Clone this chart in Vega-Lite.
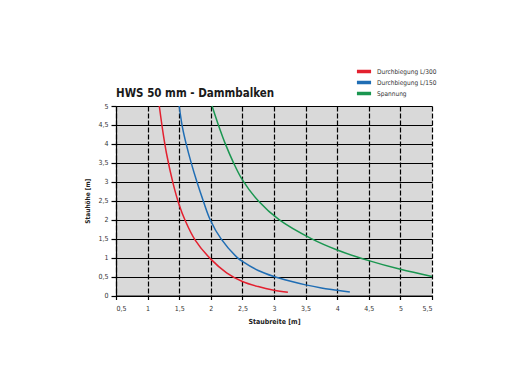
{
  "$schema": "https://vega.github.io/schema/vega-lite/v6.json",
  "width": 316,
  "height": 189.5,
  "autosize": {"type": "none"},
  "padding": {"left": 116, "top": 106, "right": 96, "bottom": 90.5},
  "background": "white",
  "config": {
    "view": {"fill": "#d9d9d9", "stroke": null},
    "font": "Liberation Sans Narrow, DejaVu Sans Condensed, sans-serif"
  },
  "title": {
    "text": "HWS 50 mm - Dammbalken",
    "anchor": "start",
    "frame": "group",
    "fontSize": 11.5,
    "fontWeight": "bold",
    "color": "#1a1a1a",
    "offset": 9,
    "dy": 41,
    "font": "Liberation Sans Narrow, DejaVu Sans Condensed, sans-serif"
  },
  "data": {
    "values": [
      {"series": "Durchbiegung L/300", "x": 1.185, "y": 5},
      {"series": "Durchbiegung L/300", "x": 1.25, "y": 4.23},
      {"series": "Durchbiegung L/300", "x": 1.3, "y": 3.74},
      {"series": "Durchbiegung L/300", "x": 1.4, "y": 2.98},
      {"series": "Durchbiegung L/300", "x": 1.5, "y": 2.39},
      {"series": "Durchbiegung L/300", "x": 1.6, "y": 1.96},
      {"series": "Durchbiegung L/300", "x": 1.75, "y": 1.47},
      {"series": "Durchbiegung L/300", "x": 2.0, "y": 0.96},
      {"series": "Durchbiegung L/300", "x": 2.25, "y": 0.6},
      {"series": "Durchbiegung L/300", "x": 2.5, "y": 0.37},
      {"series": "Durchbiegung L/300", "x": 2.75, "y": 0.235},
      {"series": "Durchbiegung L/300", "x": 3.0, "y": 0.14},
      {"series": "Durchbiegung L/300", "x": 3.22, "y": 0.085},
      {"series": "Durchbiegung L/150", "x": 1.5, "y": 5},
      {"series": "Durchbiegung L/150", "x": 1.55, "y": 4.45},
      {"series": "Durchbiegung L/150", "x": 1.61, "y": 4},
      {"series": "Durchbiegung L/150", "x": 1.69, "y": 3.5},
      {"series": "Durchbiegung L/150", "x": 1.78, "y": 3},
      {"series": "Durchbiegung L/150", "x": 1.88, "y": 2.5},
      {"series": "Durchbiegung L/150", "x": 1.99, "y": 2},
      {"series": "Durchbiegung L/150", "x": 2.16, "y": 1.5},
      {"series": "Durchbiegung L/150", "x": 2.42, "y": 1},
      {"series": "Durchbiegung L/150", "x": 2.5, "y": 0.9},
      {"series": "Durchbiegung L/150", "x": 2.75, "y": 0.66},
      {"series": "Durchbiegung L/150", "x": 3.0, "y": 0.5},
      {"series": "Durchbiegung L/150", "x": 3.25, "y": 0.38},
      {"series": "Durchbiegung L/150", "x": 3.5, "y": 0.28},
      {"series": "Durchbiegung L/150", "x": 3.75, "y": 0.2},
      {"series": "Durchbiegung L/150", "x": 4.0, "y": 0.14},
      {"series": "Durchbiegung L/150", "x": 4.2, "y": 0.09},
      {"series": "Spannung", "x": 2.02, "y": 5},
      {"series": "Spannung", "x": 2.12, "y": 4.5},
      {"series": "Spannung", "x": 2.23, "y": 4},
      {"series": "Spannung", "x": 2.36, "y": 3.5},
      {"series": "Spannung", "x": 2.5, "y": 3.05},
      {"series": "Spannung", "x": 2.75, "y": 2.5},
      {"series": "Spannung", "x": 3.08, "y": 2},
      {"series": "Spannung", "x": 3.59, "y": 1.5},
      {"series": "Spannung", "x": 4.0, "y": 1.2},
      {"series": "Spannung", "x": 4.5, "y": 0.92},
      {"series": "Spannung", "x": 5.0, "y": 0.69},
      {"series": "Spannung", "x": 5.5, "y": 0.5}
    ]
  },
  "mark": {"type": "line", "strokeWidth": 1.5, "interpolate": "catmull-rom"},
  "encoding": {
    "x": {
      "field": "x",
      "type": "quantitative",
      "scale": {"domain": [0.5, 5.5], "nice": false, "zero": false},
      "axis": {
        "values": [0.5, 1, 1.5, 2, 2.5, 3, 3.5, 4, 4.5, 5, 5.5],
        "labelExpr": "replace(toString(datum.value), '.', ',')",
        "title": "Staubreite [m]",
        "titleFontSize": 7,
        "titleFontWeight": "bold",
        "titleColor": "#222",
        "titlePadding": 6,
        "labelFontSize": 7,
        "labelColor": "#333",
        "labelPadding": 5,
        "domainColor": "black",
        "domainWidth": 1.2,
        "tickColor": "black",
        "tickSize": 4,
        "tickWidth": 1.2,
        "grid": true,
        "gridColor": "black",
        "gridWidth": 1.2,
        "gridDash": [5, 2]
      }
    },
    "y": {
      "field": "y",
      "type": "quantitative",
      "scale": {"domain": [0, 5], "nice": false},
      "axis": {
        "values": [0, 0.5, 1, 1.5, 2, 2.5, 3, 3.5, 4, 4.5, 5],
        "labelExpr": "replace(toString(datum.value), '.', ',')",
        "title": "Stauhöhe [m]",
        "titleFontSize": 6.5,
        "titleFontWeight": "bold",
        "titleColor": "#222",
        "titlePadding": 7,
        "labelFontSize": 7,
        "labelColor": "#333",
        "labelPadding": 3,
        "domainColor": "black",
        "domainWidth": 1.2,
        "tickColor": "black",
        "tickSize": 5,
        "tickWidth": 1.2,
        "grid": true,
        "gridColor": "black",
        "gridWidth": 1.2
      }
    },
    "color": {
      "field": "series",
      "type": "nominal",
      "scale": {
        "domain": ["Durchbiegung L/300", "Durchbiegung L/150", "Spannung"],
        "range": ["#e3202f", "#1f6db4", "#1a9650"]
      },
      "legend": {
        "title": null,
        "orient": "none",
        "legendX": 239,
        "legendY": -39,
        "symbolType": "stroke",
        "symbolStrokeWidth": 3.5,
        "symbolSize": 200,
        "clipHeight": 9,
        "labelFontSize": 6.5,
        "labelColor": "#333",
        "rowPadding": 2,
        "labelOffset": 4
      }
    }
  }
}
